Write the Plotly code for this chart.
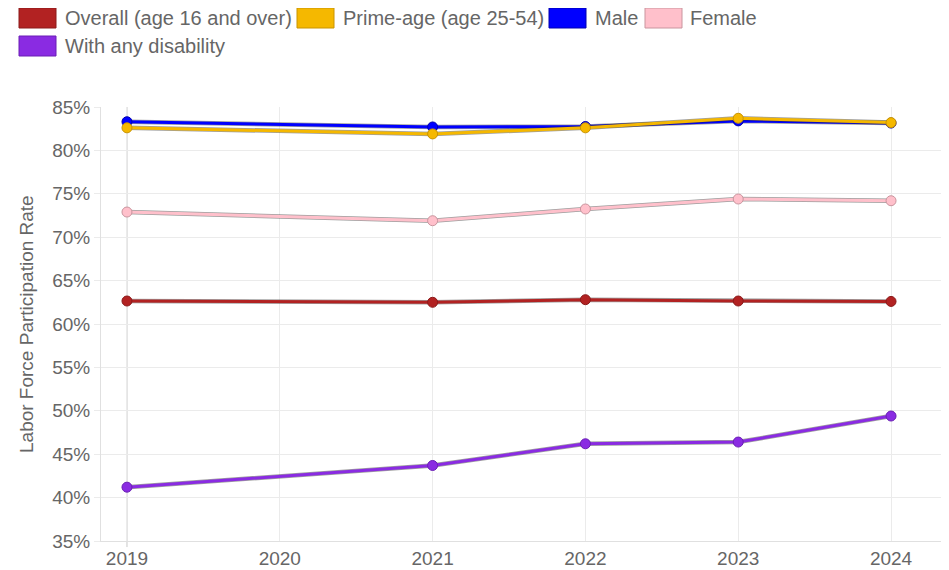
import plotly.graph_objects as go

years = [2019, 2021, 2022, 2023, 2024]
overall = [62.65, 62.5, 62.8, 62.65, 62.6]
prime_age = [82.6, 81.9, 82.6, 83.7, 83.2]
male = [83.3, 82.7, 82.75, 83.4, 83.15]
female = [72.9, 71.9, 73.25, 74.4, 74.2]
disability = [41.2, 43.7, 46.2, 46.4, 49.4]

series_names = ["Overall (age 16 and over)", "Prime-age (age 25-54)", "Male", "Female", "With any disability"]
series_values = [overall, prime_age, male, female, disability]
series_colors = ["#b22222", "#f5b800", "#0000ff", "#ffc0cb", "#8a2be2"]
edge_colors = ["#8b1a1a", "#c99400", "#0000b0", "#c9959e", "#6a1fb5"]
x_ticks = [2019, 2020, 2021, 2022, 2023, 2024]
y_title = "Labor Force Participation Rate"

OFF = 8  # page body margin
W, H = 949 - OFF, 570 - OFF
L, T = 101 - OFF, 107 - OFF
R = W - (943 - OFF)
B = H - (541 - OFF)
pw, ph = W - L - R, H - T - B
FONT = "Liberation Sans, Arial"
GREY = "#666666"

fig = go.Figure()
order = [4, 0, 3, 2, 1]
for i in order:
    fig.add_trace(go.Scatter(
        x=years, y=series_values[i], mode="lines", showlegend=False,
        line=dict(color="rgba(40,40,40,0.45)", width=4.5), hoverinfo="skip"))
    fig.add_trace(go.Scatter(
        x=years, y=series_values[i], mode="lines+markers", name=series_names[i],
        showlegend=False,
        line=dict(color=series_colors[i], width=3),
        marker=dict(size=10, color=series_colors[i], line=dict(color=edge_colors[i], width=1))))

def px_to_paper(x, y):
    # x, y in page pixels
    x -= OFF
    y -= OFF
    return (x - L) / pw, (H - B - y) / ph

legend_items = [
    (19, 8, 64), (297, 8, 342), (549, 8, 594), (645, 8, 689), (19, 36, 64)
]
shapes = []
annotations = []
for i, (bx, by, tx) in enumerate(legend_items):
    x0, y1 = px_to_paper(bx, by)
    x1, y0 = px_to_paper(bx + 37, by + 20)
    shapes.append(dict(type="rect", xref="paper", yref="paper", x0=x0, x1=x1, y0=y0, y1=y1,
                       fillcolor=series_colors[i], line=dict(color=edge_colors[i], width=1)))
    ax, ay = px_to_paper(tx - 1, by + 10)
    annotations.append(dict(xref="paper", yref="paper", x=ax, y=ay, xanchor="left", yanchor="middle",
                            text=series_names[i], showarrow=False,
                            font=dict(size=20, color=GREY, family=FONT)))

tx, ty = px_to_paper(26, (107 + 541) / 2)
annotations.append(dict(xref="paper", yref="paper", x=tx, y=ty, xanchor="center", yanchor="middle",
                        text=y_title, textangle=-90, showarrow=False,
                        font=dict(size=19, color=GREY, family=FONT)))

shapes.append(dict(type="line", xref="x", yref="paper", x0=2019, x1=2019, y0=-0.014, y1=1,
                   line=dict(color="#c8c8c8", width=1), layer="below"))

fig.update_layout(
    width=W, height=H,
    margin=dict(l=L, r=R, t=T, b=B, autoexpand=False),
    paper_bgcolor="white", plot_bgcolor="white",
    shapes=shapes, annotations=annotations,
    font=dict(family=FONT, size=19, color=GREY),
    xaxis=dict(range=[2018.83, 2024.34], tickvals=x_ticks, ticktext=[str(t) for t in x_ticks],
               automargin=False,
               showgrid=True, gridcolor="#ebebeb", gridwidth=1, zeroline=False,
               showline=True, linecolor="#e0e0e0", ticks="",
               tickfont=dict(size=19, color=GREY)),
    yaxis=dict(range=[35, 85], dtick=5, ticksuffix="%", showgrid=True, gridcolor="#ebebeb",
               automargin=False,
               zeroline=False, showline=True, linecolor="#e0e0e0", ticks="outside", ticklen=6,
               tickcolor="#ebebeb", tickfont=dict(size=19, color=GREY)),
)

fig.write_html("out.html")
